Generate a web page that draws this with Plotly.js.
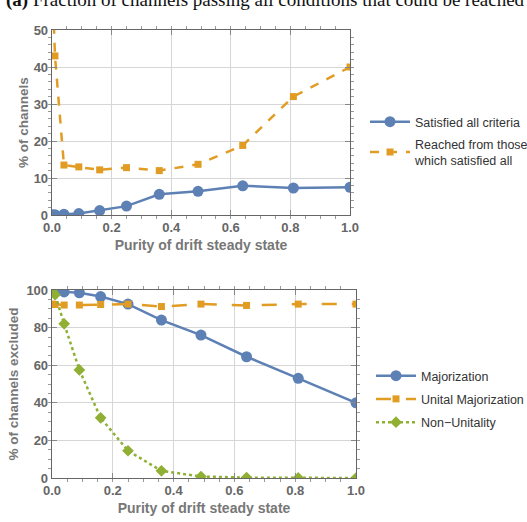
<!DOCTYPE html>
<html>
<head>
<meta charset="utf-8">
<script src="https://cdn.plot.ly/plotly-3.0.1.min.js"></script>
<style>html,body{margin:0;padding:0;background:#fff;}#chart{width:527px;height:522px;}</style>
</head>
<body>
<div id="chart"></div>
<script>
// Purity values (x)
const purity = [0, 0.01, 0.04, 0.09, 0.16, 0.25, 0.36, 0.49, 0.64, 0.81, 1.0];

// Top panel: % of channels
const satisfiedAll = [0.1, 0.1, 0.2, 0.4, 1.2, 2.4, 5.6, 6.4, 7.9, 7.3, 7.5];
const reachedFromSatisfied = [66, 43, 13.5, 13.0, 12.2, 12.8, 12.0, 13.7, 18.8, 32.0, 40.0];

// Bottom panel: % of channels excluded
const majorization = [100, 99.8, 99.0, 98.5, 96.5, 92.5, 84.0, 76.0, 64.5, 53.0, 40.0];
const unitalMajorization = [92.5, 92.3, 92.0, 92.0, 92.3, 92.5, 91.2, 92.5, 91.8, 92.5, 92.5];
const nonUnitality = [99.5, 97.5, 82.0, 57.5, 32.0, 14.5, 3.8, 0.8, 0.2, 0.05, 0.0];

const topNames = ["Satisfied all criteria", "Reached from those<br>which satisfied all"];
const bottomNames = ["Majorization", "Unital Majorization", "Non\u2212Unitality"];
const xTitle = "Purity of drift steady state";
const yTitleTop = "% of channels";
const yTitleBottom = "% of channels excluded";
const caption = "<b>(a)</b> Fraction of channels passing all conditions that could be reached";

const BLUE = "#5E81B5", ORANGE = "#E19C24", GREEN = "#8FB032";

const traces = [
  {x: purity, y: satisfiedAll, name: topNames[0], xaxis: "x", yaxis: "y", legend: "legend", legendgroup: "a",
   mode: "lines+markers", line: {color: BLUE, width: 2.5}, marker: {color: BLUE, size: 11, symbol: "circle"}},
  {x: purity, y: reachedFromSatisfied, name: topNames[1], xaxis: "x", yaxis: "y", legend: "legend", legendgroup: "b",
   mode: "lines+markers", line: {color: ORANGE, width: 2.5, dash: "dash"}, marker: {color: ORANGE, size: 7, symbol: "square"}},
  {x: purity, y: majorization, name: bottomNames[0], xaxis: "x2", yaxis: "y2", legend: "legend2", legendgroup: "c",
   mode: "lines+markers", line: {color: BLUE, width: 2.5}, marker: {color: BLUE, size: 11, symbol: "circle"}},
  {x: purity, y: unitalMajorization, name: bottomNames[1], xaxis: "x2", yaxis: "y2", legend: "legend2", legendgroup: "d",
   mode: "lines+markers", line: {color: ORANGE, width: 2.5, dash: "longdash"}, marker: {color: ORANGE, size: 7, symbol: "square"}},
  {x: purity, y: nonUnitality, name: bottomNames[2], xaxis: "x2", yaxis: "y2", legend: "legend2", legendgroup: "e",
   mode: "lines+markers", line: {color: GREEN, width: 2.5, dash: "dot"}, marker: {color: GREEN, size: 9, symbol: "diamond"}}
];

const W = 527, H = 522;
// plot area in pixels
const L = 52, R = 356, T = 30, B = 478;
const PW = R - L, PH = B - T;
const px = (p) => (p - L) / PW;          // pixel x -> paper x
const py = (p) => 1 - (p - T) / PH;      // pixel y -> paper y

const tickFont = {family: "Liberation Sans, Arial, sans-serif", size: 13, color: "#666", weight: "bold"};
const xTitleFont = {family: "Liberation Sans, Arial, sans-serif", size: 14, color: "#777", weight: "bold"};
const yTitleFont = {family: "Liberation Sans, Arial, sans-serif", size: 13.5, color: "#777", weight: "bold"};

function axisBase(extra) {
  return Object.assign({
    showline: true, linecolor: "#666", linewidth: 1.3, mirror: "allticks",
    ticks: "inside", ticklen: 5, tickcolor: "#888", tickwidth: 1,
    showgrid: true, gridcolor: "#d6d6d6", gridwidth: 1,
    zeroline: false, tickfont: tickFont, fixedrange: true, automargin: false
  }, extra);
}

const legendFont = {family: "Liberation Sans, Arial, sans-serif", size: 12.5, color: "#333"};

const layout = {
  width: W, height: H,
  margin: {l: L, r: W - R, t: T, b: H - B, autoexpand: false},
  paper_bgcolor: "#fff", plot_bgcolor: "#fff",
  showlegend: true,
  xaxis: axisBase({domain: [0, px(350)], range: [0, 1], dtick: 0.2, tickformat: ".1f", anchor: "y",
    minor: {dtick: 0.05, ticklen: 3, tickcolor: "#999", showgrid: false},
    title: {text: xTitle, font: xTitleFont, standoff: 6}}),
  yaxis: axisBase({domain: [py(215), 1], range: [0, 50], dtick: 10, anchor: "x",
    minor: {dtick: 2, ticklen: 3, tickcolor: "#999", showgrid: false}}),
  xaxis2: axisBase({domain: [0, 1], range: [0, 1], dtick: 0.2, tickformat: ".1f", anchor: "y2",
    minor: {dtick: 0.05, ticklen: 3, tickcolor: "#999", showgrid: false},
    title: {text: xTitle, font: xTitleFont, standoff: 6}}),
  yaxis2: axisBase({domain: [0, py(290)], range: [0, 100], dtick: 20, anchor: "x2",
    minor: {dtick: 5, ticklen: 3, tickcolor: "#999", showgrid: false},
    title: {text: yTitleBottom, font: yTitleFont, standoff: 4}}),
  legend: {x: px(365), xanchor: "left", y: py(107), yanchor: "top", bgcolor: "rgba(0,0,0,0)",
    font: legendFont, tracegroupgap: 3, itemwidth: 40},
  legend2: {x: px(371), xanchor: "left", y: py(361), yanchor: "top", bgcolor: "rgba(0,0,0,0)",
    font: legendFont, tracegroupgap: 4, itemwidth: 40},
  annotations: [
    {text: caption, xref: "paper", yref: "paper", x: px(265), y: py(13), xanchor: "center", yanchor: "bottom",
     showarrow: false, font: {family: "Liberation Serif, DejaVu Serif, serif", size: 19.0, color: "#111"}},
    {text: yTitleTop, xref: "paper", yref: "paper", x: px(23), y: py(123), xanchor: "center", yanchor: "middle",
     textangle: -90, showarrow: false, font: yTitleFont}
  ]
};

Plotly.newPlot("chart", traces, layout, {staticPlot: true, displayModeBar: false});
</script>
</body>
</html>
